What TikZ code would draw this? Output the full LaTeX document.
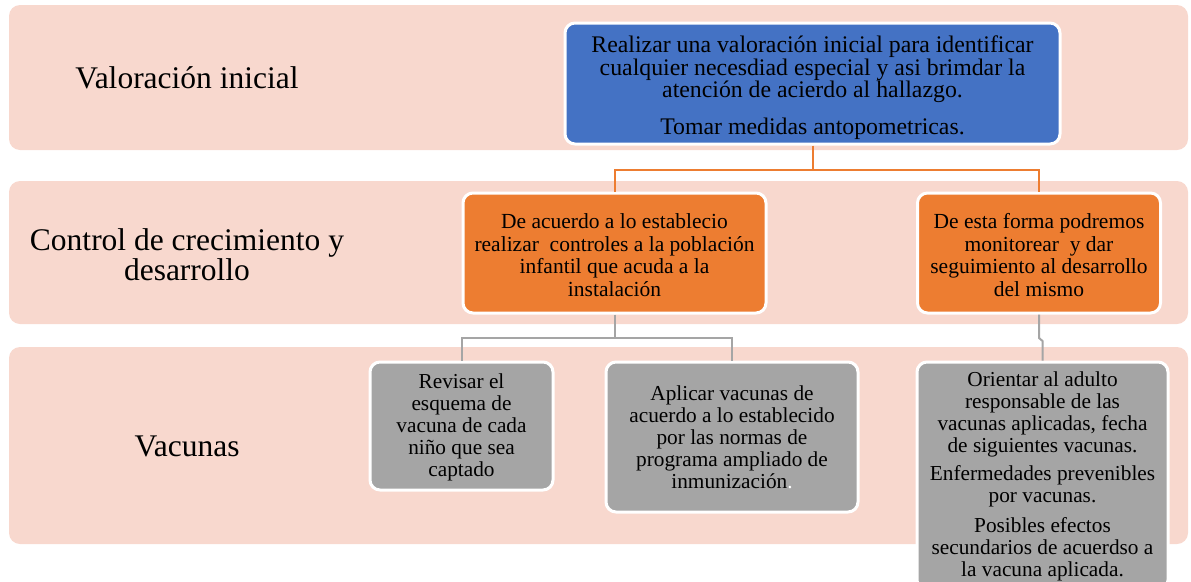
\documentclass[tikz,border=0pt]{standalone}
\usepackage{fontspec}
\setmainfont{Liberation Serif}
\definecolor{band}{HTML}{F8D8CE}
\definecolor{bluebox}{HTML}{4472C4}
\definecolor{orangebox}{HTML}{ED7D31}
\definecolor{graybox}{HTML}{A5A5A5}
\tikzset{
  bandbox/.style={fill=band, rounded corners=11pt},
  bandlabel/.style={font=\fontsize{31.5}{30}\selectfont, align=center, text=black},
  card/.style={draw=white, line width=3pt, rounded corners=10pt, align=center, inner sep=2pt, text=black},
  bluecard/.style={card, fill=bluebox, font=\fontsize{23.8}{22.5}\selectfont},
  orangecard/.style={card, fill=orangebox, font=\fontsize{21.5}{22.5}\selectfont},
  graycard/.style={card, fill=graybox, font=\fontsize{21.3}{22}\selectfont},
  oline/.style={draw=orangebox, line width=2pt},
  gline/.style={draw=graybox, line width=2pt},
}
\begin{document}
\begin{tikzpicture}[x=1pt,y=-1pt]
\useasboundingbox (0,0) rectangle (1191,581);
\clip (0,0) rectangle (1191,581);
% bands
\path[bandbox] (9,5) rectangle (1188,150);
\path[bandbox] (9,181) rectangle (1188,324);
\path[bandbox] (9,347) rectangle (1188,544);
% band labels
\node[bandlabel] (l1) at (187,78) {Valoración inicial};
\node[bandlabel] (l2) at (187,255) {Control de crecimiento y\\desarrollo};
\node[bandlabel] (l3) at (187,446) {Vacunas};
% boxes
\node[bluecard, minimum width=495pt, minimum height=121pt] (blue) at (812.5,83.5)
  {\rule{0pt}{25.5pt}Realizar una valoración inicial para identificar\\cualquier necesdiad especial y asi brimdar la\\atención de acierdo al hallazgo.\\[14.5pt]Tomar medidas antopometricas.};
\node[orangecard, minimum width=303pt, minimum height=120pt] (or1) at (614.5,253)
  {\rule{0pt}{19pt}De acuerdo a lo establecio\\realizar\ \ controles a la población\\infantil que acuda a la\\instalación};
\node[orangecard, minimum width=243pt, minimum height=120pt] (or2) at (1039,253)
  {\rule{0pt}{19pt}De esta forma podremos\\monitorear\ \ y dar\\seguimiento al desarrollo\\del mismo};
\node[graycard, minimum width=183pt, minimum height=128pt] (gr1) at (461.5,426)
  {\rule{0pt}{18pt}Revisar el\\esquema de\\vacuna de cada\\niño que sea\\captado};
\node[graycard, minimum width=252pt, minimum height=150pt] (gr2) at (732,437)
  {Aplicar vacunas de\\acuerdo a lo establecido\\por las normas de\\programa ampliado de\\inmunización{\color{white}.}};
\node[graycard, minimum width=251pt, minimum height=228pt] (gr3) at (1042.5,476)
  {Orientar al adulto\\responsable de las\\vacunas aplicadas, fecha\\de siguientes vacunas.\\[6pt]Enfermedades prevenibles\\por vacunas.\\[8pt]Posibles efectos\\secundarios de acuerdso a\\la vacuna aplicada.};
% connectors
\coordinate (bj) at (812.5,170);
\coordinate (gj) at (614.5,338);
\coordinate (j1) at (1039,338);
\coordinate (j2) at (1042.5,341);
\draw[oline] (blue.south) -- (bj);
\draw[oline] (or1.north) |- (bj) -| (or2.north);
\draw[gline] (or1.south) -- (gj);
\draw[gline] (gr1.north) |- (gj) -| (gr2.north);
\draw[gline] (or2.south) -- (j1) -- (j2) -- (gr3.north);
\end{tikzpicture}
\end{document}
